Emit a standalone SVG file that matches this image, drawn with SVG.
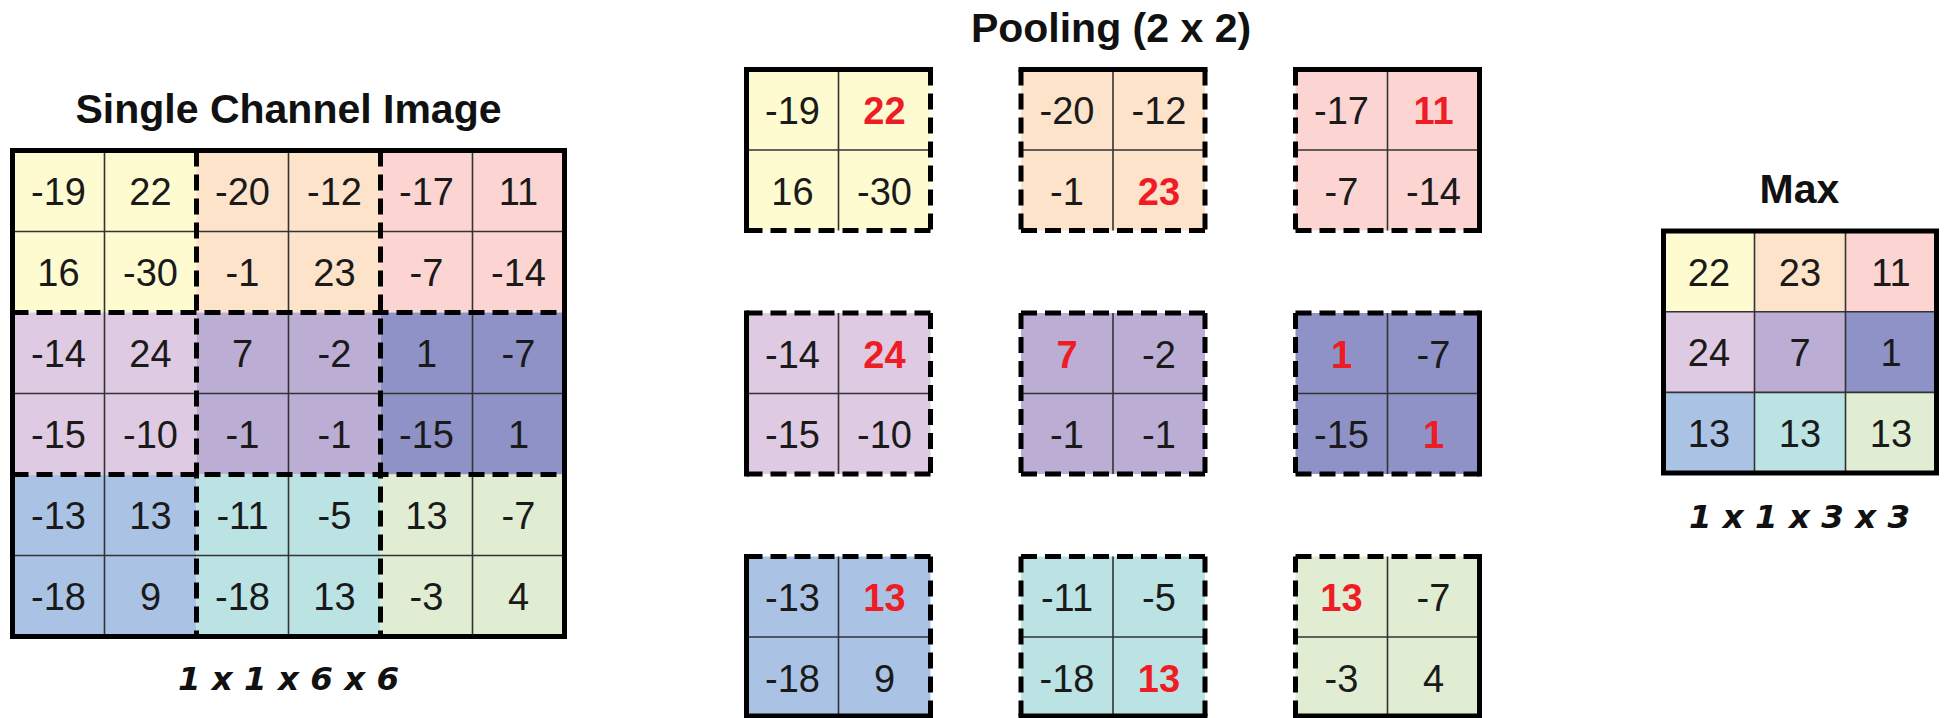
<svg xmlns="http://www.w3.org/2000/svg" width="1947" height="718" viewBox="0 0 1947 718">
<style>
.t{font-family:"Liberation Sans",Arial,sans-serif;font-weight:bold;font-size:41px;fill:#111;text-anchor:middle}
.c{font-family:"DejaVu Sans",sans-serif;font-weight:bold;font-style:oblique;font-size:32.5px;fill:#111;text-anchor:middle}
.n{font-family:"Liberation Sans",Arial,sans-serif;font-size:38px;fill:#1a1a1a;text-anchor:middle}
.r{font-family:"Liberation Sans",Arial,sans-serif;font-size:38px;font-weight:bold;fill:#ee1c25;text-anchor:middle}
.thin{stroke:#333;stroke-width:1.6;fill:none}
.solid{stroke:#000;stroke-width:5;fill:none;stroke-linecap:square}
.dash{stroke:#000;stroke-width:5;fill:none;stroke-dasharray:16 8}
.y{fill:#fefbd0}.o{fill:#fde3c9}.p{fill:#fcd4d2}
.l{fill:#dfcae3}.u{fill:#bbadd4}.s{fill:#8f92c6}
.b{fill:#aac3e5}.e{fill:#bbe3e3}.g{fill:#e0edd3}
</style>
<rect width="1947" height="718" fill="#fff"/>

<g id="input-grid">
<text class="t" x="288.5" y="123">Single Channel Image</text>
<rect class="y" x="12.5" y="150.5" width="184" height="162"/>
<rect class="o" x="196.5" y="150.5" width="184" height="162"/>
<rect class="p" x="380.5" y="150.5" width="184" height="162"/>
<rect class="l" x="12.5" y="312.5" width="184" height="162"/>
<rect class="u" x="196.5" y="312.5" width="184" height="162"/>
<rect class="s" x="380.5" y="312.5" width="184" height="162"/>
<rect class="b" x="12.5" y="474.5" width="184" height="162"/>
<rect class="e" x="196.5" y="474.5" width="184" height="162"/>
<rect class="g" x="380.5" y="474.5" width="184" height="162"/>
<path class="thin" d="M104.5 150.5V636.5M288.5 150.5V636.5M472.5 150.5V636.5M12.5 231.5H564.5M12.5 393.5H564.5M12.5 555.5H564.5"/>
<path class="dash" d="M196.5 150.5V636.5M380.5 150.5V636.5M12.5 312.5H564.5M12.5 474.5H564.5"/>
<rect class="solid" x="12.5" y="150.5" width="552" height="486"/>
<g class="n">
<text x="58.5" y="205">-19</text><text x="150.5" y="205">22</text><text x="242.5" y="205">-20</text><text x="334.5" y="205">-12</text><text x="426.5" y="205">-17</text><text x="518.5" y="205">11</text>
<text x="58.5" y="286">16</text><text x="150.5" y="286">-30</text><text x="242.5" y="286">-1</text><text x="334.5" y="286">23</text><text x="426.5" y="286">-7</text><text x="518.5" y="286">-14</text>
<text x="58.5" y="367">-14</text><text x="150.5" y="367">24</text><text x="242.5" y="367">7</text><text x="334.5" y="367">-2</text><text x="426.5" y="367">1</text><text x="518.5" y="367">-7</text>
<text x="58.5" y="448">-15</text><text x="150.5" y="448">-10</text><text x="242.5" y="448">-1</text><text x="334.5" y="448">-1</text><text x="426.5" y="448">-15</text><text x="518.5" y="448">1</text>
<text x="58.5" y="529">-13</text><text x="150.5" y="529">13</text><text x="242.5" y="529">-11</text><text x="334.5" y="529">-5</text><text x="426.5" y="529">13</text><text x="518.5" y="529">-7</text>
<text x="58.5" y="610">-18</text><text x="150.5" y="610">9</text><text x="242.5" y="610">-18</text><text x="334.5" y="610">13</text><text x="426.5" y="610">-3</text><text x="518.5" y="610">4</text>
</g>
<text class="c" x="288.5" y="690">1 x 1 x 6 x 6</text>
</g>

<text class="t" x="1111" y="41.5">Pooling (2 x 2)</text>

<g id="pool-1-1">
<rect class="y" x="746.5" y="69.5" width="184" height="161"/>
<path class="thin" d="M838.5 69.5V230.5M746.5 150H930.5"/>
<text class="n" x="792.5" y="124">-19</text><text class="r" x="884.5" y="124">22</text>
<text class="n" x="792.5" y="204.5">16</text><text class="n" x="884.5" y="204.5">-30</text>
<path class="dash" d="M930.5 69.5V230.5M746.5 230.5H930.5"/>
<path class="solid" d="M746.5 230.5V69.5H930.5"/>
</g>
<g id="pool-1-2">
<rect class="o" x="1021" y="69.5" width="184" height="161"/>
<path class="thin" d="M1113 69.5V230.5M1021 150H1205"/>
<text class="n" x="1067" y="124">-20</text><text class="n" x="1159" y="124">-12</text>
<text class="n" x="1067" y="204.5">-1</text><text class="r" x="1159" y="204.5">23</text>
<path class="dash" d="M1021 69.5V230.5M1205 69.5V230.5M1021 230.5H1205"/>
<path class="solid" d="M1021 69.5H1205"/>
</g>
<g id="pool-1-3">
<rect class="p" x="1295.5" y="69.5" width="184" height="161"/>
<path class="thin" d="M1387.5 69.5V230.5M1295.5 150H1479.5"/>
<text class="n" x="1341.5" y="124">-17</text><text class="r" x="1433.5" y="124">11</text>
<text class="n" x="1341.5" y="204.5">-7</text><text class="n" x="1433.5" y="204.5">-14</text>
<path class="dash" d="M1295.5 69.5V230.5M1295.5 230.5H1479.5"/>
<path class="solid" d="M1295.5 69.5H1479.5V230.5"/>
</g>

<g id="pool-2-1">
<rect class="l" x="746.5" y="313" width="184" height="161"/>
<path class="thin" d="M838.5 313V474M746.5 393.5H930.5"/>
<text class="n" x="792.5" y="367.5">-14</text><text class="r" x="884.5" y="367.5">24</text>
<text class="n" x="792.5" y="448">-15</text><text class="n" x="884.5" y="448">-10</text>
<path class="dash" d="M746.5 313H930.5M930.5 313V474M746.5 474H930.5"/>
<path class="solid" d="M746.5 313V474"/>
</g>
<g id="pool-2-2">
<rect class="u" x="1021" y="313" width="184" height="161"/>
<path class="thin" d="M1113 313V474M1021 393.5H1205"/>
<text class="r" x="1067" y="367.5">7</text><text class="n" x="1159" y="367.5">-2</text>
<text class="n" x="1067" y="448">-1</text><text class="n" x="1159" y="448">-1</text>
<path class="dash" d="M1021 313H1205M1021 313V474M1205 313V474M1021 474H1205"/>
</g>
<g id="pool-2-3">
<rect class="s" x="1295.5" y="313" width="184" height="161"/>
<path class="thin" d="M1387.5 313V474M1295.5 393.5H1479.5"/>
<text class="r" x="1341.5" y="367.5">1</text><text class="n" x="1433.5" y="367.5">-7</text>
<text class="n" x="1341.5" y="448">-15</text><text class="r" x="1433.5" y="448">1</text>
<path class="dash" d="M1295.5 313H1479.5M1295.5 313V474M1295.5 474H1479.5"/>
<path class="solid" d="M1479.5 313V474"/>
</g>

<g id="pool-3-1">
<rect class="b" x="746.5" y="556.5" width="184" height="161"/>
<path class="thin" d="M838.5 556.5V717.5M746.5 637H930.5"/>
<text class="n" x="792.5" y="611">-13</text><text class="r" x="884.5" y="611">13</text>
<text class="n" x="792.5" y="691.5">-18</text><text class="n" x="884.5" y="691.5">9</text>
<path class="dash" d="M746.5 556.5H930.5M930.5 556.5V717.5"/>
<path class="solid" d="M746.5 556.5V716H930.5"/>
</g>
<g id="pool-3-2">
<rect class="e" x="1021" y="556.5" width="184" height="161"/>
<path class="thin" d="M1113 556.5V717.5M1021 637H1205"/>
<text class="n" x="1067" y="611">-11</text><text class="n" x="1159" y="611">-5</text>
<text class="n" x="1067" y="691.5">-18</text><text class="r" x="1159" y="691.5">13</text>
<path class="dash" d="M1021 556.5H1205M1021 556.5V716M1205 556.5V716"/>
<path class="solid" d="M1021 716H1205"/>
</g>
<g id="pool-3-3">
<rect class="g" x="1295.5" y="556.5" width="184" height="161"/>
<path class="thin" d="M1387.5 556.5V717.5M1295.5 637H1479.5"/>
<text class="r" x="1341.5" y="611">13</text><text class="n" x="1433.5" y="611">-7</text>
<text class="n" x="1341.5" y="691.5">-3</text><text class="n" x="1433.5" y="691.5">4</text>
<path class="dash" d="M1295.5 556.5H1479.5M1295.5 556.5V716"/>
<path class="solid" d="M1479.5 556.5V716H1295.5"/>
</g>

<g id="max-output">
<text class="t" x="1799.5" y="203">Max</text>
<rect class="y" x="1663.5" y="231" width="91" height="80.7"/>
<rect class="o" x="1754.5" y="231" width="91" height="80.7"/>
<rect class="p" x="1845.5" y="231" width="91" height="80.7"/>
<rect class="l" x="1663.5" y="311.7" width="91" height="80.7"/>
<rect class="u" x="1754.5" y="311.7" width="91" height="80.7"/>
<rect class="s" x="1845.5" y="311.7" width="91" height="80.7"/>
<rect class="b" x="1663.5" y="392.4" width="91" height="80.6"/>
<rect class="e" x="1754.5" y="392.4" width="91" height="80.6"/>
<rect class="g" x="1845.5" y="392.4" width="91" height="80.6"/>
<path class="thin" d="M1754.5 231V473M1845.5 231V473M1663.5 311.7H1936.5M1663.5 392.4H1936.5"/>
<rect class="solid" x="1663.5" y="231" width="273" height="242"/>
<g class="n">
<text x="1709" y="285.5">22</text><text x="1800" y="285.5">23</text><text x="1891" y="285.5">11</text>
<text x="1709" y="366">24</text><text x="1800" y="366">7</text><text x="1891" y="366">1</text>
<text x="1709" y="447">13</text><text x="1800" y="447">13</text><text x="1891" y="447">13</text>
</g>
<text class="c" x="1799.5" y="528">1 x 1 x 3 x 3</text>
</g>

<g id="connectors"/>
</svg>
